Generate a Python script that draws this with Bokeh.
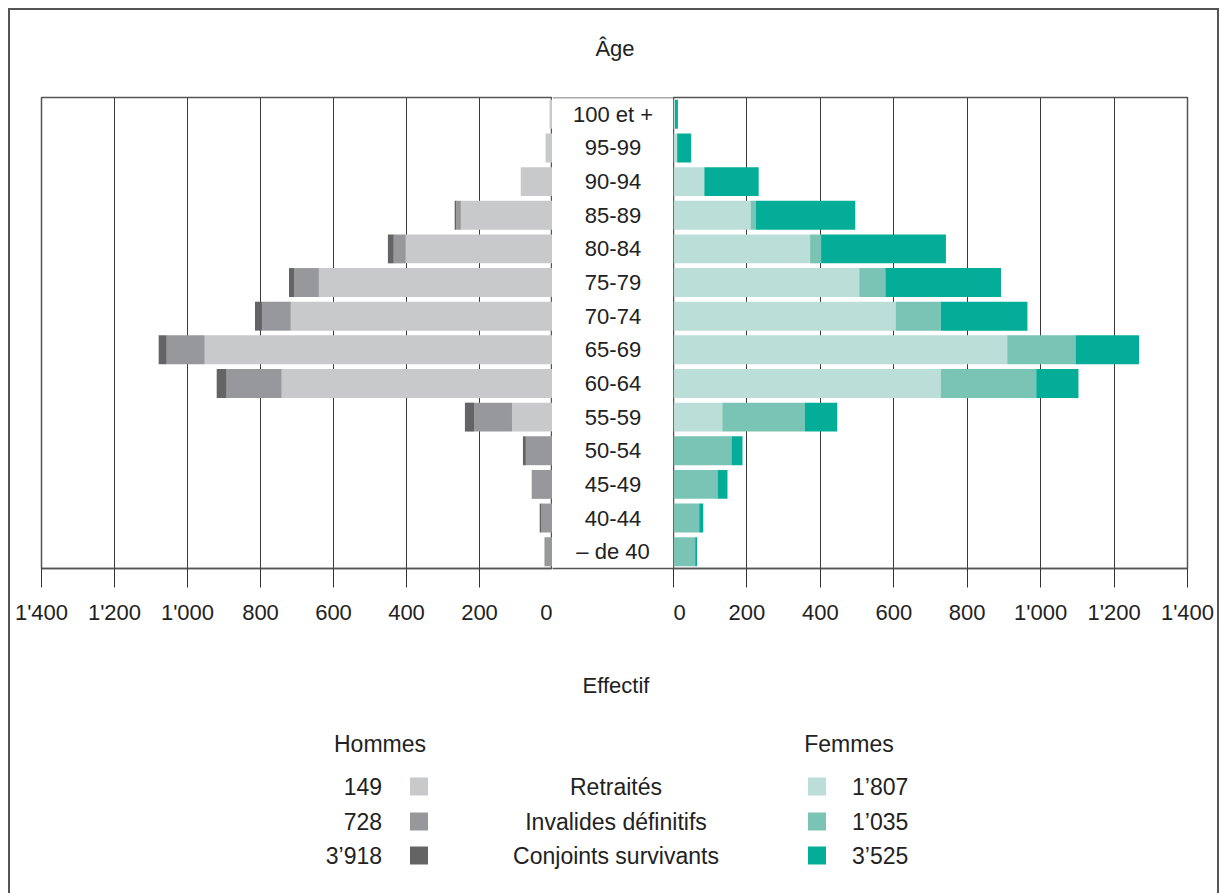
from bokeh.plotting import figure
from bokeh.models import Range1d, FactorRange, FixedTicker, ColumnDataSource, Span
from bokeh.layouts import row, column
from bokeh.embed import file_html
from bokeh.resources import INLINE
from bokeh.core.properties import value

# ---------------- data ----------------
AGE_GROUPS = ["100 et +", "95-99", "90-94", "85-89", "80-84", "75-79", "70-74",
              "65-69", "60-64", "55-59", "50-54", "45-49", "40-44", "– de 40"]

MEN_RETRAITES = [8, 19, 87, 251, 402, 640, 717, 953, 742, 111, 0, 0, 0, 0]
MEN_INVALIDES = [0, 0, 0, 13, 33, 68, 79, 104, 151, 104, 73, 57, 30, 22]
MEN_CONJOINTS = [0, 0, 0, 4, 16, 14, 19, 22, 27, 25, 8, 0, 5, 0]

WOMEN_RETRAITES = [4, 10, 84, 210, 372, 506, 605, 909, 728, 133, 0, 0, 0, 0]
WOMEN_INVALIDES = [0, 0, 0, 14, 30, 71, 123, 186, 260, 225, 158, 120, 70, 59]
WOMEN_CONJOINTS = [8, 38, 148, 271, 340, 315, 236, 173, 115, 88, 30, 27, 11, 5]

TICKS = [0, 200, 400, 600, 800, 1000, 1200, 1400]
TICK_LABELS = ["0", "200", "400", "600", "800", "1'000", "1'200", "1'400"]

LEGEND_LABELS = ["Retraités", "Invalides définitifs", "Conjoints survivants"]
MEN_TOTALS = ["149", "728", "3’918"]
WOMEN_TOTALS = ["1’807", "1’035", "3’525"]

MEN_COLORS = ["#c8c9cb", "#97989b", "#646467"]
WOMEN_COLORS = ["#bbded8", "#79c4b4", "#04ad97"]

# ---------------- style ----------------
FONT = "Liberation Sans"
FS = "22px"
FS_LEG = "23px"
TXT = "#222222"
LINE = "#555555"
GRID = "#3a3a3a"

HEAD_H = 60
TOP_H = 570
MB_TOP = 27
MB_BOTTOM = 72
W_LEFT, W_MID, W_RIGHT = 542, 121, 544
BW = W_LEFT + W_MID + W_RIGHT

src = ColumnDataSource(dict(
    age=AGE_GROUPS,
    m_ret=MEN_RETRAITES, m_inv=MEN_INVALIDES, m_conj=MEN_CONJOINTS,
    w_ret=WOMEN_RETRAITES, w_inv=WOMEN_INVALIDES, w_conj=WOMEN_CONJOINTS,
))

y_range = FactorRange(factors=AGE_GROUPS[::-1], range_padding=0)


def blank(width, height):
    p = figure(width=width, height=height, x_range=Range1d(0, width),
               y_range=Range1d(height, 0), x_axis_location=None,
               y_axis_location=None, output_backend="svg", toolbar_location=None,
               min_border=0)
    p.grid.visible = False
    p.outline_line_color = None
    return p


def side(width, xr, mbl, mbr, keys, colors):
    p = figure(width=width, height=TOP_H, x_range=xr, y_range=y_range,
               y_axis_location=None, output_backend="svg", toolbar_location=None,
               min_border_left=mbl, min_border_right=mbr,
               min_border_top=MB_TOP, min_border_bottom=MB_BOTTOM)
    p.hbar_stack(keys, y="age", height=0.86, fill_color=colors, line_color=None,
                 source=src)
    p.ygrid.grid_line_color = None
    p.xgrid.ticker = FixedTicker(ticks=TICKS)
    p.xgrid.grid_line_color = GRID
    p.xgrid.grid_line_width = 1
    p.outline_line_color = LINE
    p.outline_line_width = 1.5
    ax = p.xaxis[0]
    ax.ticker = FixedTicker(ticks=TICKS)
    ax.major_label_overrides = {t: l for t, l in zip(TICKS, TICK_LABELS)}
    ax.minor_tick_line_color = None
    ax.major_tick_in = 0
    ax.major_tick_out = 19
    ax.major_tick_line_color = "#333333"
    ax.axis_line_color = LINE
    ax.axis_line_width = 1.5
    ax.major_label_text_font = FONT
    ax.major_label_text_font_size = FS
    ax.major_label_text_color = TXT
    ax.major_label_standoff = 12
    return p


pl = side(W_LEFT, Range1d(1400, 0), 31, 0, ["m_ret", "m_inv", "m_conj"], MEN_COLORS)
pr = side(W_RIGHT, Range1d(0, 1400), 0, 30, ["w_ret", "w_inv", "w_conj"], WOMEN_COLORS)

# middle figure with age labels
pm = figure(width=W_MID, height=TOP_H, x_range=Range1d(0, 1), y_range=y_range,
            y_axis_location=None, output_backend="svg", toolbar_location=None,
            min_border_left=0, min_border_right=0,
            min_border_top=MB_TOP, min_border_bottom=MB_BOTTOM)
pm.grid.visible = False
pm.outline_line_color = None
pm.xaxis.major_tick_line_color = None
pm.xaxis.minor_tick_line_color = None
pm.xaxis.major_label_text_color = None
pm.xaxis.axis_line_color = LINE
pm.xaxis.axis_line_width = 1.5
pm.add_layout(Span(location=len(AGE_GROUPS), dimension="width",
                   line_color=LINE, line_width=1.5))
lab_src = ColumnDataSource(dict(x=[0.5] * len(AGE_GROUPS), age=AGE_GROUPS))
pm.text(x="x", y="age", text="age", source=lab_src, text_align="center",
        text_baseline="middle", text_font=value(FONT), text_font_size=FS,
        text_color=TXT)

CX = W_LEFT + W_MID / 2
TXT_KW = dict(text_font=value(FONT), text_color=TXT, text_baseline="middle")

# heading strip ("Âge")
ph = blank(BW, HEAD_H)
ph.text(x=[CX + 2], y=[38], text=["Âge"], text_align="center",
        text_font_size=FS, **TXT_KW)

# bottom strip: axis title + legend
BH = 253
pb = blank(BW, BH)
ROW_Y = [146, 181, 215]

pb.text(x=[CX + 3], y=[45], text=["Effectif"], text_align="center",
        text_font_size=FS, **TXT_KW)
pb.text(x=[CX - 233, CX + 236], y=[103, 103], text=["Hommes", "Femmes"],
        text_align="center", text_font_size=FS_LEG, **TXT_KW)
pb.text(x=[CX - 231] * 3, y=ROW_Y, text=MEN_TOTALS, text_align="right",
        text_font_size=FS_LEG, **TXT_KW)
pb.text(x=[CX + 3] * 3, y=ROW_Y, text=LEGEND_LABELS, text_align="center",
        text_font_size=FS_LEG, **TXT_KW)
pb.text(x=[CX + 239] * 3, y=ROW_Y, text=WOMEN_TOTALS, text_align="left",
        text_font_size=FS_LEG, **TXT_KW)
pb.rect(x=[CX - 194] * 3, y=ROW_Y, width=18, height=18, fill_color=MEN_COLORS,
        line_color=None)
pb.rect(x=[CX + 204] * 3, y=ROW_Y, width=18, height=18, fill_color=WOMEN_COLORS,
        line_color=None)

layout = column(ph, row(pl, pm, pr), pb,
                styles={"margin-left": "8px", "margin-top": "8px",
                        "border-left": "2px solid #555555",
                        "border-top": "2px solid #555555",
                        "border-right": "2px solid #555555"})

open("out.html", "w").write(file_html(layout, INLINE))
